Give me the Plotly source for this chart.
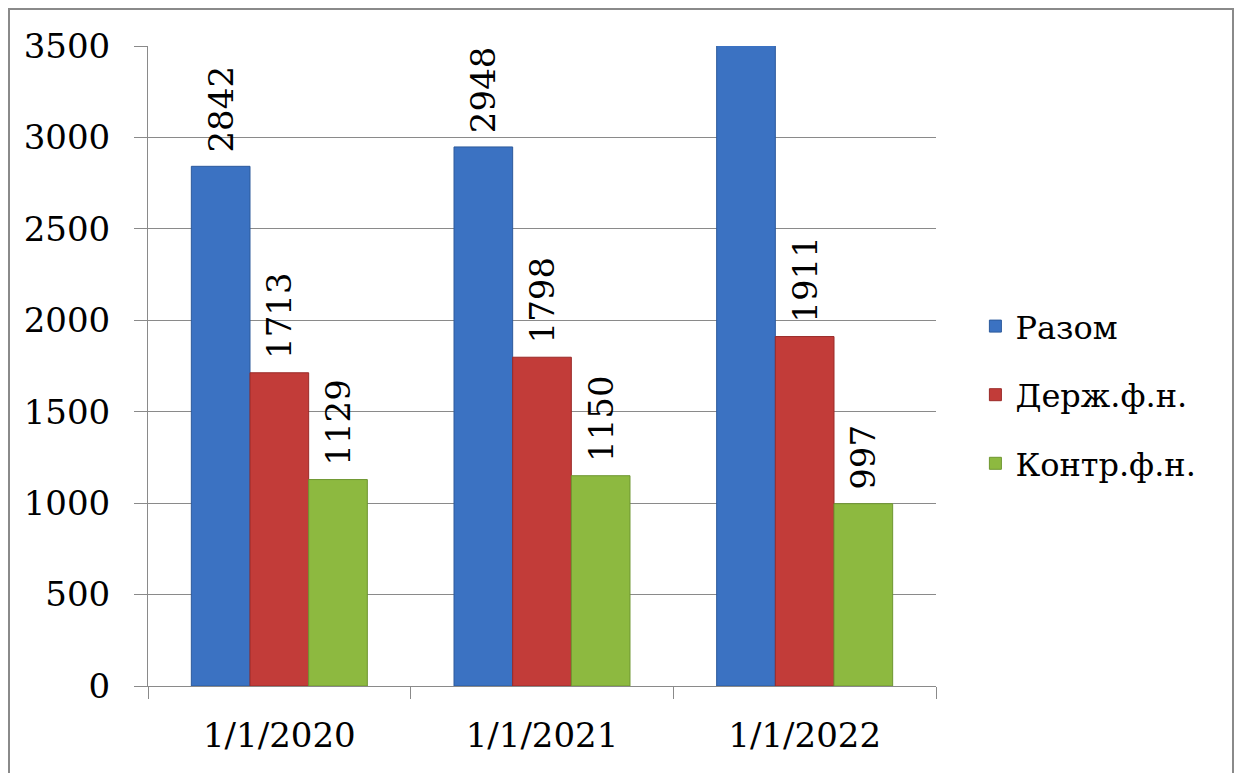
import plotly.graph_objects as go

categories = ["1/1/2020", "1/1/2021", "1/1/2022"]
razom = [2842, 2948, 3600]
derzh = [1713, 1798, 1911]
kontr = [1129, 1150, 997]
series_names = ["Разом", "Держ.ф.н.", "Контр.ф.н."]
colors = ["#3b72c2", "#c23c39", "#8db940"]
line_colors = ["#2c5a9c", "#9a2a28", "#6e9630"]

Y_MAX = 3500
FONT = "DejaVu Serif"

fig = go.Figure()
for name, vals, c, lc in zip(series_names, [razom, derzh, kontr], colors, line_colors):
    fig.add_trace(go.Bar(
        x=categories, y=vals, name=name, legendgroup=name,
        marker=dict(color=c, line=dict(color=lc, width=1)),
        text=["\u00a0" + str(v) if v <= Y_MAX else "" for v in vals],
        textposition="outside", textangle=-90, constraintext="none",
        textfont=dict(family=FONT, size=34, color="black"),
        cliponaxis=True,
    ))

fig.update_layout(
    width=1243, height=773,
    margin=dict(l=140, r=315, t=38, b=95),
    paper_bgcolor="white", plot_bgcolor="white",
    barmode="group", bargap=0.33, bargroupgap=0,
    font=dict(family=FONT, size=34, color="black"),
    showlegend=True,
    legend=dict(x=1.05, y=0.455, xanchor="left", yanchor="middle",
                font=dict(family=FONT, size=32, color="black"),
                itemwidth=30, tracegroupgap=24, bgcolor="rgba(0,0,0,0)"),
)
fig.update_yaxes(range=[0, Y_MAX], tickvals=[0, 500, 1000, 1500, 2000, 2500, 3000, 3500],
                 showgrid=True, gridcolor="#8a8a8a", gridwidth=1,
                 showline=True, linecolor="#8a8a8a", linewidth=1,
                 ticks="outside", ticklen=13, tickcolor="#8a8a8a", automargin=False,
                 ticklabelstandoff=17,
                 tickfont=dict(family=FONT, size=34, color="black"), zeroline=False)
fig.update_xaxes(showline=True, linecolor="#8a8a8a", linewidth=1, automargin=False,
                 ticks="outside", tickson="boundaries", ticklen=12, tickcolor="#8a8a8a",
                 ticklabelstandoff=19,
                 tickfont=dict(family=FONT, size=34, color="black"))

fig.add_shape(type="rect", xref="paper", yref="paper",
              x0=-0.1764, x1=1.3769, y0=-0.2, y1=1.0578,
              line=dict(color="#8a8a8a", width=2), fillcolor="rgba(0,0,0,0)", layer="below")

fig.write_html("out.html")
